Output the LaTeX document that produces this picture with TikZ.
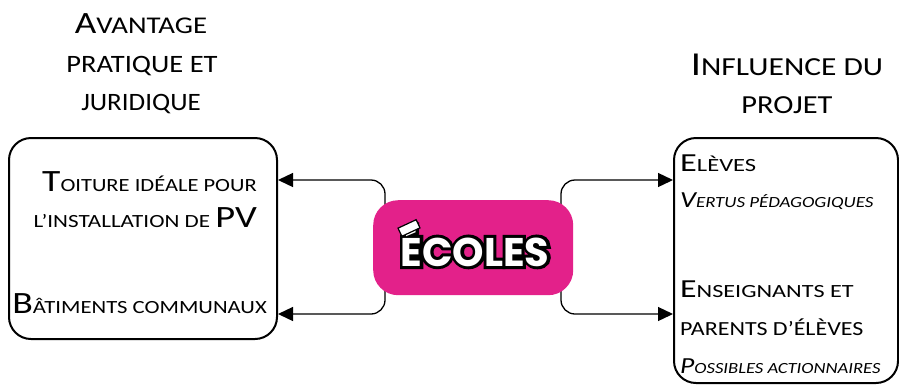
\documentclass[tikz,border=0pt]{standalone}
\usepackage{fontspec}
\setmainfont{Carlito}
\newfontfamily\ecolfont{Poppins}
\newfontfamily\ecolfontfat{Poppins}[FakeBold=15]
\usetikzlibrary{arrows.meta}
\definecolor{ecolemag}{RGB}{227,33,138}
\newcommand\fsz[2]{{\fontsize{#1}{#1}\selectfont #2}}
\newcommand\stretchto[1]{\addfontfeature{FakeStretch=#1}}
\newcommand\outl[1]{\leavevmode
  \rlap{{\ecolfontfat\bfseries\fontsize{40}{40}\selectfont\textcolor{black}{#1}}}%
  {\ecolfont\bfseries\fontsize{40}{40}\selectfont\textcolor{white}{#1}}}
\begin{document}
\begin{tikzpicture}[x=1pt,y=-1pt,
  box/.style={draw=black, line width=2pt, rounded corners=22pt, inner sep=0pt},
  conn/.style={draw=black, line width=1.3pt, rounded corners=14pt, -{Triangle[length=15pt,width=14pt]}},
  lbl/.style={inner sep=0pt, text=black},
  ]
\useasboundingbox (0,0) rectangle (899,384);
% boxes
\node[box, minimum width=268pt, minimum height=201pt, anchor=north west] (leftbox) at (8,137) {};
\node[box, minimum width=224pt, minimum height=245pt, anchor=north west] (rightbox) at (673,137) {};
% connectors
\coordinate (cl1) at (385,206);
\coordinate (cl2) at (385,290);
\coordinate (cr1) at (561,206);
\coordinate (cr2) at (561,290);
\draw[conn] (cl1) |- (leftbox.east |- 0,180);
\draw[conn] (cl2) |- (leftbox.east |- 0,314);
\draw[conn] (cr1) |- (rightbox.west |- 0,180);
\draw[conn] (cr2) |- (rightbox.west |- 0,314);
% centre
\node[fill=ecolemag, rounded corners=25pt, minimum width=200pt, minimum height=95pt, anchor=north west, inner sep=0pt] (ecoles) at (373,200) {};
\node[inner sep=0pt, anchor=base] (ecolestxt) at (475,266) {\outl{ÉCOLES}};
\node[draw=black, line width=1.2pt, fill=white, rotate=25, minimum width=20pt, minimum height=9pt, inner sep=0pt] (sticker) at (409,228) {};
% titles
\node[lbl, anchor=base] (t1a) at (141,33) {\stretchto{1.2}\fsz{31}{A}\fsz{24}{VANTAGE}};
\node[lbl, anchor=base] (t1b) at (142,72) {\stretchto{1.14}\fsz{25}{PRATIQUE ET}};
\node[lbl, anchor=base] (t1c) at (141,110) {\stretchto{1.08}\fsz{25}{JURIDIQUE}};
\node[lbl, anchor=base] (t2a) at (787,75) {\stretchto{1.21}\fsz{33.5}{I}\fsz{26}{NFLUENCE DU}};
\node[lbl, anchor=base] (t2b) at (787,113) {\stretchto{1.17}\fsz{26}{PROJET}};
% left box text
\node[lbl, anchor=base east] (l1) at (257,191) {\stretchto{1.21}\fsz{31}{T}\fsz{18.6}{OITURE IDÉALE POUR}};
\node[lbl, anchor=base east] (l2) at (257,227) {\stretchto{1.24}\fsz{18.6}{L’INSTALLATION DE }\fsz{31}{PV}};
\node[lbl, anchor=base east] (l3) at (267,313) {\stretchto{1.22}\fsz{31}{B}\fsz{18.6}{ÂTIMENTS COMMUNAUX}};
% right box text
\node[lbl, anchor=base west] (r1) at (680,171) {\stretchto{1.32}\fsz{26}{E}\fsz{18.6}{LÈVES}};
\node[lbl, anchor=base west] (r2) at (680,207) {\stretchto{1.22}\itshape\fsz{23}{V}\fsz{15.5}{ERTUS PÉDAGOGIQUES}};
\node[lbl, anchor=base west] (r3) at (680,297) {\stretchto{1.3}\fsz{26}{E}\fsz{18.6}{NSEIGNANTS ET}};
\node[lbl, anchor=base west] (r4) at (680,335) {\stretchto{1.2}\fsz{20}{PARENTS D’ÉLÈVES}};
\node[lbl, anchor=base west] (r5) at (680,373) {\stretchto{1.2}\itshape\fsz{23}{P}\fsz{15.5}{OSSIBLES ACTIONNAIRES}};
\end{tikzpicture}
\end{document}
